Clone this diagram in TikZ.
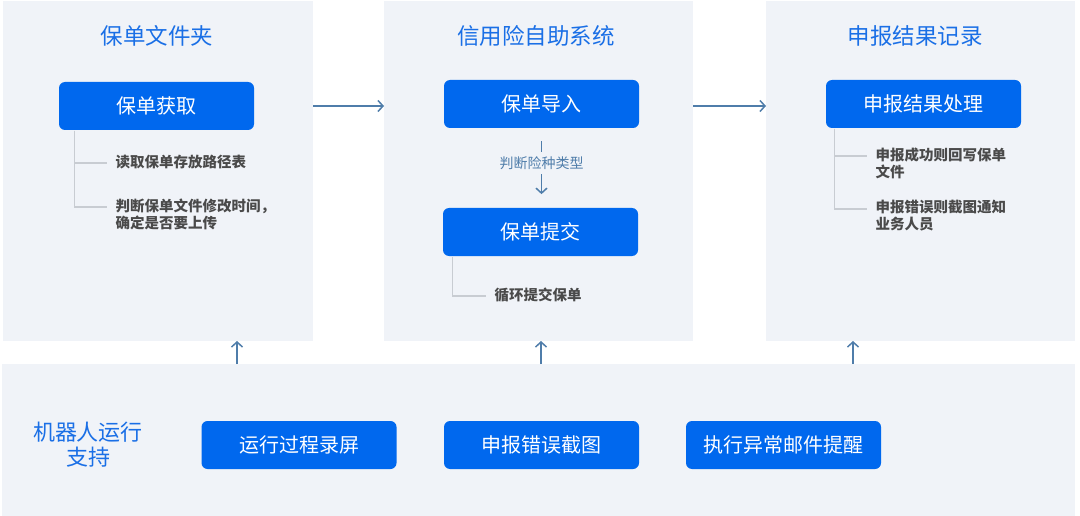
\documentclass[tikz,border=0pt]{standalone}
\usepackage{fontspec}
\setmainfont{Noto Sans CJK SC}
\usetikzlibrary{arrows.meta,positioning}
\definecolor{panelbg}{HTML}{F0F3F8}
\definecolor{boxblue}{HTML}{0068EE}
\definecolor{titleblue}{HTML}{1A6FE6}
\definecolor{arrowblue}{HTML}{4F7DAA}
\definecolor{linegray}{HTML}{C8CCD2}
\definecolor{notegray}{HTML}{4A4A4A}

\begin{document}
\begin{tikzpicture}[x=1pt,y=-1pt,line width=1.2pt,
  >={Straight Barb[length=5pt,width=11pt]},
  panel/.style={fill=panelbg,inner sep=0,outer sep=0},
  stage/.style={fill=boxblue,rounded corners=6pt,text=white,inner sep=0,
    minimum width=195pt,minimum height=48pt,font=\fontsize{20}{23}\selectfont},
  heading/.style={text=titleblue,align=center,font=\fontsize{22.5}{25}\selectfont},
  note/.style={text=notegray,anchor=north west,inner sep=0,align=left,
    font=\bfseries\fontsize{14.5}{17}\selectfont},
  flow/.style={->,draw=arrowblue,line width=1.5pt},
  tree/.style={draw=linegray,line width=1.5pt}]
\useasboundingbox (0,0) rectangle (1080,516);
\def\gap{8pt} % space between tree line and note
% ---- background panels ----
\node[panel,minimum width=310pt,minimum height=340pt] (fold) at (158,171) {};
\node[panel,minimum width=309pt,minimum height=340pt] (sys) at (538.5,171) {};
\node[panel,minimum width=309pt,minimum height=340pt] (rec) at (920.5,171) {};
\node[panel,minimum width=1073pt,minimum height=152pt] (bot) at (538.5,440) {};
% ---- panel titles ----
\node[heading] (tfold) at (157,36) {保单文件夹};
\node[heading] (tsys) at (536,36) {信用险自助系统};
\node[heading] (trec) at (915,36) {申报结果记录};
\node[heading,font=\fontsize{22}{25}\selectfont] (tbot) at (88,445) {机器人运行\\支持};
% ---- stage boxes ----
\node[stage] (get) at (156.5,106) {保单获取};
\node[stage] (imp) at (541.5,104) {保单导入};
\node[stage] (sub) at (540.5,232) {保单提交};
\node[stage] (res) at (923.5,104) {申报结果处理};
\node[stage] (rec1) at (299,445) {运行过程录屏};
\node[stage] (rec2) at (541.5,445) {申报错误截图};
\node[stage] (rec3) at (783.5,445) {执行异常邮件提醒};
% ---- notes ----
\node[note] (n1) at (115,154) {读取保单存放路径表};
\node[note] (n2) at (115,198) {判断保单文件修改时间，\\确定是否要上传};
\node[note] (n3) at (494,287) {循环提交保单};
\node[note] (n4) at (875,147) {申报成功则回写保单\\文件};
\node[note] (n5) at (875,200) {申报错误则截图通知\\业务人员};
\foreach \b/\dx/\n in {get/16/n1,get/16/n2,sub/10/n3,res/9/n4,res/9/n5}
  \draw[tree] ([xshift=\dx pt]\b.south west) |- ([xshift=-\gap,yshift=-9pt]\n.north west);
% ---- flow between panels ----
\draw[flow] (fold.east |- get) -- (sys.west |- get);
\draw[flow] (sys.east |- get) -- (rec.west |- get);
\node[text=arrowblue,font=\fontsize{14}{17}\selectfont,inner sep=4pt] (kind) at (541.5,163) {判断险种类型};
\draw[draw=arrowblue,line width=1.8pt] (kind.north) -- ++(0,-11);
\draw[flow] (kind.south) -- ++(0,20);
\foreach \x/\p in {237/fold,541/sys,853/rec}
  \draw[flow] (\x,0 |- bot.north) -- (\x,0 |- \p.south);
\end{tikzpicture}
\end{document}
